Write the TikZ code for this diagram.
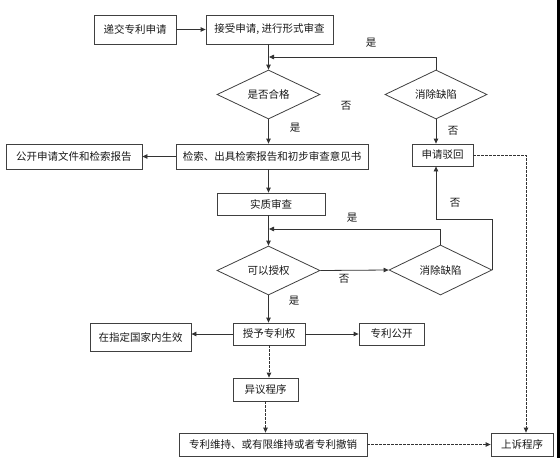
\documentclass[tikz,border=0pt]{standalone}
\usepackage{fontspec}
\newfontfamily\cjk{Noto Sans CJK SC}
\usetikzlibrary{arrows.meta,shapes.geometric}
\tikzset{
  base/.style={draw=black!75, line width=0.8pt, inner sep=0pt, font=\cjk\fontsize{10.5}{12}\selectfont, text=black!90},
  box/.style={base, rectangle},
  dia/.style={base, diamond, aspect=2.1},
  lbl/.style={font=\cjk\fontsize{10.5}{12}\selectfont, text=black!90, inner sep=0pt},
  arr/.style={draw=black!80, line width=0.8pt, -{Triangle[length=5pt,width=4.5pt]}},
  ln/.style={draw=black!80, line width=0.8pt},
  darr/.style={arr, dash pattern=on 2.2pt off 1.8pt},
  dln/.style={ln, dash pattern=on 2.2pt off 1.8pt}
}
\begin{document}
\begin{tikzpicture}[x=1pt,y=-1pt]
\useasboundingbox (0,0) rectangle (560,469);
\fill[white] (0,0) rectangle (560,469);
\fill[black] (557,0) rectangle (560,458);
% nodes
\node[box, minimum width=82, minimum height=29] (b1) at (135,29.5) {递交专利申请};
\node[box, minimum width=127, minimum height=29] (b2) at (269.5,29.5) {接受申请, 进行形式审查};
\node[dia, minimum width=103, minimum height=49] (d1) at (268.5,94.5) {是否合格};
\node[dia, minimum width=102, minimum height=49] (d2) at (436,94.5) {消除缺陷};
\node[box, minimum width=192, minimum height=25] (b3) at (272,156.5) {检索、出具检索报告和初步审查意见书};
\node[box, minimum width=136, minimum height=25] (b4) at (74,156.5) {公开申请文件和检索报告};
\node[box, minimum width=61, minimum height=22] (b5) at (442.5,155) {申请驳回};
\node[box, minimum width=108, minimum height=22] (b6) at (271,204) {实质审查};
\node[dia, minimum width=103, minimum height=49] (d3) at (268.5,270.5) {可以授权};
\node[dia, minimum width=103, minimum height=50] (d4) at (440.5,270) {消除缺陷};
\node[box, minimum width=72, minimum height=22] (b7) at (269,334) {授予专利权};
\node[box, minimum width=101, minimum height=28] (b8) at (140.5,337) {在指定国家内生效};
\node[box, minimum width=65, minimum height=22] (b9) at (391.5,334) {专利公开};
\node[box, minimum width=65, minimum height=23] (b10) at (265.5,389.5) {异议程序};
\node[box, minimum width=188, minimum height=23] (b11) at (273,444.5) {专利维持、或有限维持或者专利撤销};
\node[box, minimum width=62, minimum height=23] (b12) at (522,444.5) {上诉程序};
% helper coordinates
\coordinate (j1) at (269,57);
\coordinate (j2) at (269,229);
\coordinate (k1) at (492,219);
\coordinate (k2) at (436,219);
\coordinate (m1) at (526,155);
% connectors
\draw[arr] (b1.east |- 0,29.5) -- (b2.west |- 0,29.5);
\draw[arr] (b2.south -| d1.north) -- (d1.north);
\draw[arr] (d2.north) |- (j1);
\draw[arr] (d2.south) -- (d2.south |- b5.north);
\draw[arr] (d1.south) -- (d1.south |- b3.north);
\draw[arr] (b3.west) -- (b4.east);
\draw[arr] (b3.south -| d1.south) -- (b6.north -| d1.south);
\draw[arr] (b6.south -| d3.north) -- (d3.north);
\draw[arr] (d4.north) |- (j2);
\draw[arr] (d3.east) -- (d4.west);
\draw[arr] (d4.east) -- (d4.east |- k1) -- (k2) -- (k2 |- b5.south);
\draw[arr] (d3.south) -- (d3.south |- b7.north);
\draw[arr] (b7.west) -- (b7.west -| b8.east);
\draw[arr] (b7.east) -- (b9.west);
\draw[darr] (b7.south) -- (b7.south |- b10.north);
\draw[darr] (b10.south) -- (b10.south |- b11.north);
\draw[darr] (b11.east) -- (b12.west);
\draw[darr] (b5.east) -- (m1) -- (m1 |- b12.north);
% labels
\node[lbl] (l1) at (371,43) {是};
\node[lbl] (l2) at (346,106) {否};
\node[lbl] (l3) at (453,131) {否};
\node[lbl] (l4) at (295,128) {是};
\node[lbl] (l5) at (455,203) {否};
\node[lbl] (l6) at (352,218) {是};
\node[lbl] (l7) at (344,279) {否};
\node[lbl] (l8) at (294,301) {是};
\end{tikzpicture}
\end{document}
